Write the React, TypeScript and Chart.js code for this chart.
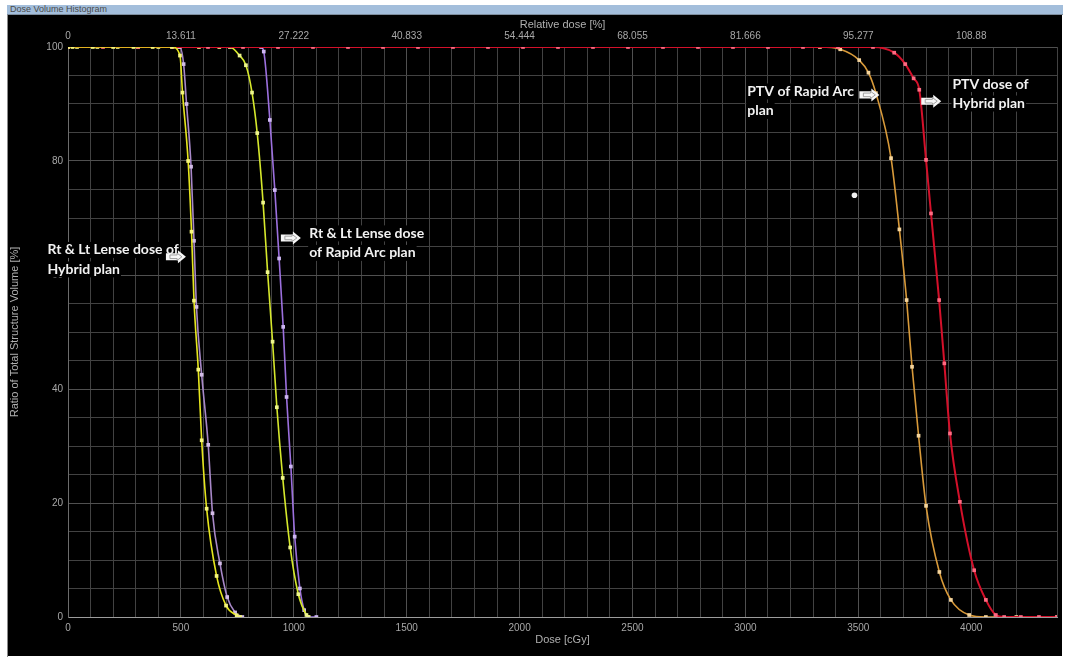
import React, { useEffect, useRef } from 'react';
import { Chart, registerables } from 'chart.js';
Chart.register(...registerables);

// ---------- data (dose in cGy, volume in %) ----------
const relativeDoseTickValues = [0, 500, 1000, 1500, 2000, 2500, 3000, 3500, 4000];
const relativeDoseLabels = ['0', '13.611', '27.222', '40.833', '54.444', '68.055', '81.666', '95.277', '108.88'];

const lensHybridYellowDose = [0, 20, 110, 200, 290, 375, 460, 496, 507, 532, 547, 558, 577, 592, 614, 658, 700, 747, 762];
const lensHybridYellowVol = [100, 100, 100, 100, 100, 100, 100, 98.5, 92, 80, 67.6, 55.5, 43.4, 31, 19, 7.2, 2, 0.3, 0];

const lensHybridPurpleDose = [0, 495, 512, 525, 545, 558, 569, 592, 621, 640, 673, 705, 740, 772];
const lensHybridPurpleVol = [100, 100, 97, 90, 79, 66, 54.4, 42.5, 30.2, 18.2, 9.4, 3.5, 0.8, 0];

const lensRapidYellowDose = [0, 40, 130, 220, 310, 400, 490, 580, 670, 717, 760, 788, 815, 838, 864, 884, 906, 925, 951, 984, 1020, 1056, 1066];
const lensRapidYellowVol = [100, 100, 100, 100, 100, 100, 100, 100, 100, 100, 98.5, 96.8, 92, 84.9, 72.7, 60.5, 48.3, 36.8, 24.4, 12.2, 4, 0.35, 0];

const lensRapidPurpleDose = [0, 855, 867, 894, 916, 935, 953, 968, 987, 1004, 1027, 1046, 1062, 1100];
const lensRapidPurpleVol = [100, 100, 99.2, 87.2, 74.9, 62.9, 50.9, 38.6, 26.4, 14.1, 5, 1.2, 0, 0];

const ptvRapidDose = [0, 3330, 3420, 3504, 3545, 3578, 3645, 3682, 3714, 3738, 3767, 3800, 3859, 3910, 3991, 4065, 4200, 4380];
const ptvRapidVol = [100, 100, 99.6, 97.7, 95.5, 91.9, 80.5, 68, 55.6, 43.9, 31.8, 19.5, 7.9, 3, 0.35, 0, 0, 0];

const ptvHybridDose = [0, 155, 310, 465, 620, 775, 930, 1085, 1240, 1395, 1550, 1705, 1860, 2015, 2170, 2325, 2480, 2635, 2790, 2945, 3100, 3255, 3410, 3565,
  3659, 3708, 3745, 3770, 3800, 3822, 3858, 3881, 3906, 3950, 4013, 4065, 4109, 4146, 4220, 4300, 4380];
const ptvHybridVol = [100, 100, 100, 100, 100, 100, 100, 100, 100, 100, 100, 100, 100, 100, 100, 100, 100, 100, 100, 100, 100, 100, 100, 100,
  99, 97, 94.5, 92.5, 80.2, 70.8, 55.6, 44.5, 32.2, 20.2, 8.2, 3, 0.35, 0, 0, 0, 0];

const strayPointDose = [3483];
const strayPointVol = [74];

// ---------- annotations (anchored in data units) ----------
const labelNotes = [
  { lines: ['Rt & Lt Lense dose of', 'Hybrid plan'], dose: -91, vol: 64.4 },
  { lines: ['Rt & Lt Lense dose', 'of Rapid Arc plan'], dose: 1068, vol: 67.3 },
  { lines: ['PTV of Rapid Arc', 'plan'], dose: 3008, vol: 92.2 },
  { lines: ['PTV dose of', 'Hybrid plan'], dose: 3917, vol: 93.5 },
];
const arrowNotes = [
  { dose: 478, vol: 63.2 },
  { dose: 987, vol: 66.5 },
  { dose: 3549, vol: 91.6 },
  { dose: 3823, vol: 90.5 },
];

const zip = (xs: number[], ys: number[]) => xs.map((x, i) => ({ x, y: ys[i] }));

const TICK_FONT_FAMILY = '"Liberation Sans", Arial, sans-serif';
const TICK_COLOR = '#a8a8a8';
const TITLE_COLOR = '#b0b0b0';

function drawArrow(ctx: CanvasRenderingContext2D, cx: number, cy: number, w: number, h: number) {
  const x0 = cx - w / 2, x1 = cx + w / 2, xm = cx + w * 0.1, sh = h * 0.27;
  ctx.beginPath();
  ctx.moveTo(x0, cy - sh);
  ctx.lineTo(xm, cy - sh);
  ctx.lineTo(xm, cy - h / 2);
  ctx.lineTo(x1, cy);
  ctx.lineTo(xm, cy + h / 2);
  ctx.lineTo(xm, cy + sh);
  ctx.lineTo(x0, cy + sh);
  ctx.closePath();
  ctx.fillStyle = '#f6f6f6';
  ctx.fill();
  const iw = w * 0.6, ih = h * 0.55;
  const a0 = cx - iw / 2, a1 = cx + iw / 2, am = cx + iw * 0.1, ash = ih * 0.25;
  ctx.beginPath();
  ctx.moveTo(a0, cy - ash);
  ctx.lineTo(am, cy - ash);
  ctx.lineTo(am, cy - ih / 2);
  ctx.lineTo(a1, cy);
  ctx.lineTo(am, cy + ih / 2);
  ctx.lineTo(am, cy + ash);
  ctx.lineTo(a0, cy + ash);
  ctx.closePath();
  ctx.strokeStyle = '#a0a0a0';
  ctx.lineWidth = 1;
  ctx.stroke();
}

const notesPlugin = {
  id: 'notes',
  afterDraw(chart: any) {
    const { ctx, scales, chartArea } = chart;
    const xs = scales.x, ys = scales.y;
    ctx.save();
    // top relative-dose tick labels
    ctx.font = `10px ${TICK_FONT_FAMILY}`;
    ctx.fillStyle = TICK_COLOR;
    ctx.textAlign = 'center';
    ctx.textBaseline = 'middle';
    relativeDoseTickValues.forEach((v, i) => {
      ctx.fillText(relativeDoseLabels[i], xs.getPixelForValue(v), chartArea.top - 10.5);
    });
    // text notes (on small black boxes, as pasted labels)
    ctx.font = 'bold 14px Lato, "Open Sans", sans-serif';
    ctx.textAlign = 'left';
    labelNotes.forEach((n) => {
      const px = xs.getPixelForValue(n.dose);
      const py = ys.getPixelForValue(n.vol);
      n.lines.forEach((t, i) => {
        const w = ctx.measureText(t).width;
        ctx.fillStyle = '#000000';
        ctx.fillRect(px - 1, py + i * 19.5 - 8, w + 2, 16);
        ctx.fillStyle = '#f2f2f2';
        ctx.fillText(t, px, py + i * 19.5);
      });
    });
    arrowNotes.forEach((a) => {
      drawArrow(ctx, xs.getPixelForValue(a.dose), ys.getPixelForValue(a.vol), 20, 13);
    });
    ctx.restore();
  },
};

function line(label: string, dose: number[], vol: number[], color: string, marker: string, order: number, width = 1.6) {
  return {
    label,
    data: zip(dose, vol),
    borderColor: color,
    backgroundColor: marker,
    pointBackgroundColor: marker,
    pointBorderWidth: 0,
    pointStyle: 'rect',
    pointRadius: 2.6,
    borderWidth: width,
    cubicInterpolationMode: 'monotone',
    fill: false,
    order,
  };
}

export default function App() {
  const ref = useRef<HTMLCanvasElement | null>(null);
  useEffect(() => {
    document.body.style.margin = '0';
    if (!ref.current) return;
    const tickFont = { family: TICK_FONT_FAMILY, size: 10 };
    const titleFont = { family: TICK_FONT_FAMILY, size: 11 };
    const gridColor = (c: any) => (c.tick && c.tick.value % 500 === 0 ? '#505050' : '#424242');
    const chart = new Chart(ref.current, {
      type: 'line',
      data: {
        datasets: [
          line('Rt & Lt Lense Hybrid (1)', lensHybridYellowDose, lensHybridYellowVol, '#e6e61e', '#f6f67c', 0),
          {
            label: 'point',
            data: zip(strayPointDose, strayPointVol),
            showLine: false,
            pointRadius: 2.8,
            pointStyle: 'circle',
            pointBackgroundColor: '#f0f0f0',
            pointBorderWidth: 0,
            order: 1,
          } as any,
          line('PTV Hybrid', ptvHybridDose, ptvHybridVol, '#d4102a', '#ff6a82', 2, 2),
          line('Rt & Lt Lense Hybrid (2)', lensHybridPurpleDose, lensHybridPurpleVol, '#a888c8', '#d2bce6', 3),
          line('Rt & Lt Lense Rapid Arc (1)', lensRapidYellowDose, lensRapidYellowVol, '#d6e82c', '#eef58c', 4),
          line('Rt & Lt Lense Rapid Arc (2)', lensRapidPurpleDose, lensRapidPurpleVol, '#9c70de', '#cdb6f2', 5),
          line('PTV Rapid Arc', ptvRapidDose, ptvRapidVol, '#d89a3a', '#f4d49c', 6),
        ] as any,
      },
      options: {
        responsive: false,
        animation: false,
        devicePixelRatio: 1,
        layout: { padding: { left: 0, right: 4, top: 0, bottom: 0 } },
        plugins: { legend: { display: false }, tooltip: { enabled: false } },
        scales: {
          x: {
            type: 'linear',
            position: 'bottom',
            min: 0,
            max: 4380,
            afterFit: (s: any) => { s.height = 39; },
            ticks: {
              stepSize: 100,
              autoSkip: false,
              maxRotation: 0,
              padding: 5,
              color: TICK_COLOR,
              font: tickFont,
              callback: (v: any) => (v % 500 === 0 ? String(v) : ''),
            },
            grid: { color: gridColor, drawTicks: false, lineWidth: 1 },
            border: { color: '#9c9c9c', width: 1 },
            title: { display: true, text: 'Dose [cGy]', color: TITLE_COLOR, font: titleFont, padding: { top: 0, bottom: 9 } },
          },
          x2: {
            type: 'linear',
            position: 'top',
            min: 0,
            max: 4380,
            afterFit: (s: any) => { s.height = 32; },
            ticks: { display: false },
            grid: { display: false, drawTicks: false },
            border: { display: false },
            title: { display: true, text: 'Relative dose [%]', color: TITLE_COLOR, font: titleFont, padding: { top: 3.5, bottom: 0 } },
          },
          y: {
            type: 'linear',
            min: 0,
            max: 100,
            afterFit: (s: any) => { s.width = 60; },
            ticks: {
              stepSize: 5,
              autoSkip: false,
              padding: 5,
              color: TICK_COLOR,
              font: tickFont,
              callback: (v: any) => (v % 20 === 0 ? String(v) : ''),
            },
            grid: { color: (c: any) => (c.tick && c.tick.value % 20 === 0 ? '#505050' : '#424242'), drawTicks: false },
            border: { color: '#6c6c6c' },
            title: { display: true, text: 'Ratio of Total Structure Volume [%]', color: TITLE_COLOR, font: titleFont, padding: { top: 0.5, bottom: 0 } },
          },
        },
      } as any,
      plugins: [notesPlugin],
    });
    return () => chart.destroy();
  }, []);

  return (
    <div style={{ position: 'relative', width: 1065, height: 660, background: '#ffffff', overflow: 'hidden' }}>
      <div
        style={{
          position: 'absolute', left: 7, top: 5, width: 1056, height: 10,
          background: '#a3bedb', borderBottom: '1px solid #7f8e9e', boxSizing: 'border-box',
          font: '9px "Liberation Sans", Arial, sans-serif', color: '#4a4a4a', lineHeight: '9px',
          paddingLeft: 3, whiteSpace: 'nowrap',
        }}
      >
        Dose Volume Histogram
      </div>
      <div style={{ position: 'absolute', left: 7, top: 15, width: 1, height: 642, background: '#8a8a8a' }} />
      <div style={{ position: 'absolute', left: 8, top: 15, width: 1054, height: 641, background: '#000000' }}>
        <canvas ref={ref} width={1054} height={641} style={{ display: 'block', width: 1054, height: 641 }} />
      </div>
    </div>
  );
}
